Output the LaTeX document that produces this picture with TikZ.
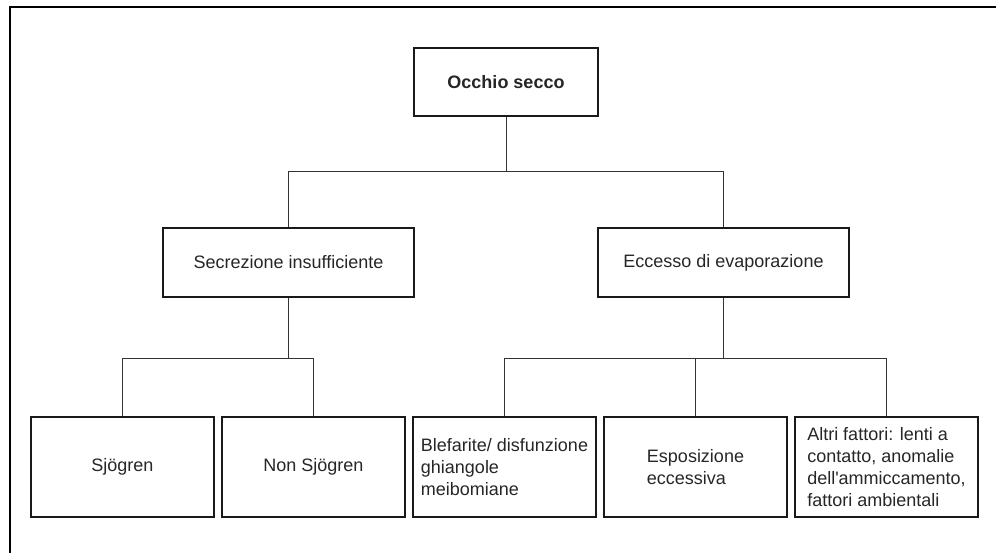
\documentclass[tikz,border=0pt]{standalone}
\usepackage{fontspec}
\setmainfont{Liberation Sans}
\begin{document}
\begin{tikzpicture}[x=1pt,y=-1pt,
  box/.style={draw=black!90, line width=2pt, rectangle, inner sep=0pt, align=left,
    font=\fontsize{18}{22}\selectfont, text=black!85},
  lvl1/.style={box, minimum width=184pt, minimum height=68pt, font=\fontsize{18}{22}\selectfont\bfseries},
  lvl2/.style={box, minimum width=251pt, minimum height=69pt},
  lvl3/.style={box, minimum width=183pt, minimum height=100pt},
  conn/.style={draw=black!80, line width=1pt},
  frame/.style={draw=black, line width=2pt}]
\useasboundingbox (0,0) rectangle (996,553);
\draw[frame] (10,560) -- (10,7) -- (1000,7);

\node[lvl1] (top) at (506,82) {Occhio secco};
\node[lvl2] (sec) at (288.5,262.5) {Secrezione insufficiente};
\node[lvl2] (ecc) at (723.5,262.5) {Eccesso di evaporazione};

\node[lvl3] (b1) at (122.5,467) {Sjögren};
\node[lvl3] (b2) at (313.5,467) {Non Sjögren};
\node[lvl3] (b3) at (504.5,467) {Blefarite/ disfunzione\\ghiangole\\meibomiane};
\node[lvl3] (b4) at (695.5,467) {Esposizione\\eccessiva};
\node[lvl3] (b5) at (886.5,467) {Altri fattori: lenti a\\contatto, anomalie\\dell\textquotesingle ammiccamento,\\fattori ambientali};

\coordinate (j1) at (506,172);
\coordinate (j2) at (0,358);

\draw[conn] (top.south) -- (j1);
\draw[conn] (sec.north) -- (sec.north |- j1) -- (ecc.north |- j1) -- (ecc.north);

\draw[conn] (sec.south) -- (sec.south |- j2);
\draw[conn] (b1.north) -- (b1.north |- j2) -- (b2.north |- j2) -- (b2.north);

\draw[conn] (ecc.south) -- (ecc.south |- j2);
\draw[conn] (b3.north) -- (b3.north |- j2) -- (b5.north |- j2) -- (b5.north);
\draw[conn] (b4.north) -- (b4.north |- j2);
\end{tikzpicture}
\end{document}
